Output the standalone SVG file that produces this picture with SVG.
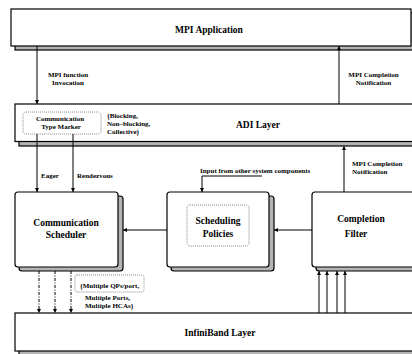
<svg xmlns="http://www.w3.org/2000/svg" width="412" height="354" viewBox="0 0 412 354">
<defs>
<style>
.box{fill:#fff;stroke:#000;stroke-width:1.2}
.sh{fill:#b4b4b4;stroke:#000;stroke-width:1.2}
.dot{fill:none;stroke:#888;stroke-width:1;stroke-dasharray:1,1}
.big{font-family:"Liberation Serif",serif;font-weight:bold;font-size:9.5px;fill:#000}
.sm{font-family:"Liberation Serif",serif;font-weight:bold;font-size:7px;fill:#000}
.ln{fill:none;stroke:#000;stroke-width:1}
.dd{fill:none;stroke:#000;stroke-width:1;stroke-dasharray:3,1.5,1,1.5}
</style>
<marker id="ah" viewBox="0 0 6 6" refX="6" refY="3" markerWidth="4" markerHeight="4" orient="auto" markerUnits="userSpaceOnUse">
<path d="M0,0 L6,3 L0,6 z" fill="#000"/>
</marker>
</defs>
<rect width="412" height="354" fill="#fff"/>

<g id="mpi-app">
<rect class="sh" x="15" y="13" width="400" height="37"/>
<rect class="box" x="11" y="9" width="400" height="37"/>
<text class="big" x="209" y="32.5" text-anchor="middle">MPI Application</text>
</g>

<g id="adi-layer">
<rect class="sh" x="19" y="108" width="396" height="38"/>
<rect class="box" x="15" y="104" width="400" height="37.5"/>
<text class="big" x="258" y="127.5" text-anchor="middle">ADI Layer</text>
<rect class="dot" x="23" y="112" width="78" height="22" rx="3"/>
<text class="sm" x="60" y="121" text-anchor="middle">Communication</text>
<text class="sm" x="61" y="128.5" text-anchor="middle">Type Marker</text>
<text class="sm" x="107" y="117.5">{Blocking,</text>
<text class="sm" x="107" y="125.5">Non–blocking,</text>
<text class="sm" x="107" y="133.5">Collective}</text>
</g>

<g id="comm-scheduler">
<rect class="sh" x="19" y="196" width="104" height="75" rx="3"/>
<rect class="box" x="15" y="192" width="103" height="75" rx="3"/>
<text class="big" x="66" y="226" text-anchor="middle">Communication</text>
<text class="big" x="66" y="238" text-anchor="middle">Scheduler</text>
</g>

<g id="scheduling-policies">
<rect class="sh" x="171" y="196" width="103" height="75" rx="3"/>
<rect class="box" x="167" y="192" width="102" height="75" rx="3"/>
<rect class="dot" x="187" y="205" width="62" height="41" rx="3"/>
<text class="big" x="218" y="223.5" text-anchor="middle">Scheduling</text>
<text class="big" x="218" y="236.5" text-anchor="middle">Policies</text>
</g>

<g id="completion-filter">
<rect class="sh" x="316" y="196" width="104" height="75" rx="3"/>
<rect class="box" x="312" y="192" width="104" height="75" rx="3"/>
<text class="big" x="361" y="221.5" text-anchor="middle">Completion</text>
<text class="big" x="356" y="236.5" text-anchor="middle">Filter</text>
</g>

<g id="infiniband-layer">
<rect class="sh" x="19" y="317" width="396" height="38"/>
<rect class="box" x="15" y="313" width="400" height="38"/>
<text class="big" x="220" y="335.5" text-anchor="middle">InfiniBand Layer</text>
</g>

<g id="annotations">
<rect class="dot" x="75" y="275" width="69" height="17" rx="2"/>
<text class="sm" x="80" y="287.5">{Multiple QPs/port,</text>
<text class="sm" x="85" y="300">Multiple Ports,</text>
<text class="sm" x="85" y="307.5">Multiple HCAs}</text>
</g>

<g id="connectors">
<path class="ln" d="M37,46 V104" marker-end="url(#ah)"/>
<text class="sm" x="68" y="76.5" text-anchor="middle">MPI function</text>
<text class="sm" x="68" y="85" text-anchor="middle">Invocation</text>
<path class="ln" d="M339,104 V46" marker-end="url(#ah)"/>
<text class="sm" x="373.5" y="76.5" text-anchor="middle">MPI Completion</text>
<text class="sm" x="373.5" y="85" text-anchor="middle">Notification</text>
<path class="ln" d="M37,134 V192" marker-end="url(#ah)"/>
<path class="ln" d="M73,134 V192" marker-end="url(#ah)"/>
<text class="sm" x="41" y="177.5">Eager</text>
<text class="sm" x="77" y="177.5">Rendezvous</text>
<path class="ln" d="M262,176 H202 V192" marker-end="url(#ah)"/>
<text class="sm" x="200" y="172.5">Input from other system components</text>
<path class="ln" d="M344,192 V146" marker-end="url(#ah)"/>
<text class="sm" x="352" y="165.5">MPI Completion</text>
<text class="sm" x="352" y="173.5">Notification</text>
<path class="ln" d="M312,230 H274" marker-end="url(#ah)"/>
<path class="ln" d="M167,230 H123" marker-end="url(#ah)"/>
<path class="dd" d="M39,271 V313" marker-end="url(#ah)"/>
<path class="dd" d="M55,271 V313" marker-end="url(#ah)"/>
<path class="dd" d="M71,271 V313" marker-end="url(#ah)"/>
<path class="ln" d="M319,313 V271" marker-end="url(#ah)"/>
<path class="ln" d="M327,313 V271" marker-end="url(#ah)"/>
<path class="ln" d="M337,313 V271" marker-end="url(#ah)"/>
<path class="ln" d="M345,313 V271" marker-end="url(#ah)"/>
</g>
</svg>
